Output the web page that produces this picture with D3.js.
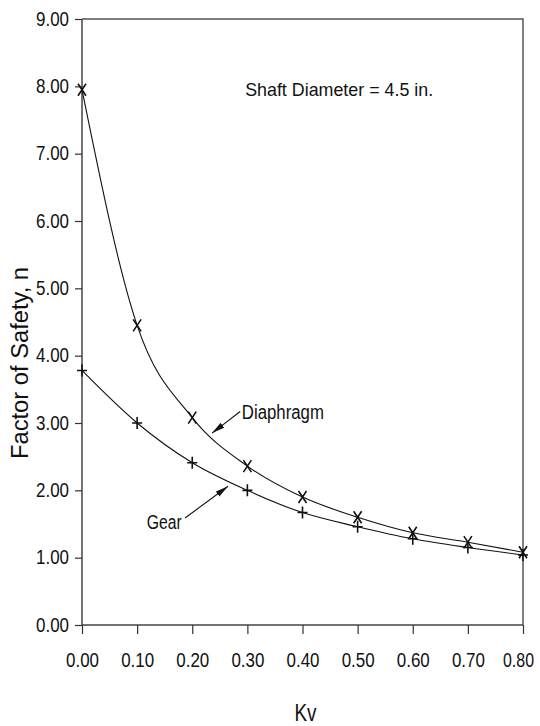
<!DOCTYPE html>
<html>
<head>
<meta charset="utf-8">
<script src="https://cdn.jsdelivr.net/npm/d3@7"></script>
<style>
  body { margin: 0; background: white; }
  svg text { font-family: "Liberation Sans", Arial, sans-serif; fill: #111; }
</style>
</head>
<body>
<div id="chart"></div>
<script>
// 데이터
const kv = [0.0, 0.1, 0.2, 0.3, 0.4, 0.5, 0.6, 0.7, 0.8];
const diaphragm = [7.95, 4.45, 3.08, 2.36, 1.9, 1.6, 1.37, 1.23, 1.08];
const gear = [3.78, 3.0, 2.41, 2.0, 1.67, 1.46, 1.28, 1.15, 1.04];
const xTicks = [0, 0.1, 0.2, 0.3, 0.4, 0.5, 0.6, 0.7, 0.8];
const yTicks = [0, 1, 2, 3, 4, 5, 6, 7, 8, 9];

const W = 540, H = 726;
const margin = { top: 19, right: 17, bottom: 101, left: 82 };
const innerW = W - margin.left - margin.right;
const innerH = H - margin.top - margin.bottom;

const svg = d3.select("#chart").append("svg")
  .attr("width", W).attr("height", H);

const g = svg.append("g")
  .attr("transform", `translate(${margin.left},${margin.top})`);

const x = d3.scaleLinear().domain([0, 0.8]).range([0, innerW]);
const y = d3.scaleLinear().domain([0, 9]).range([innerH, 0]);

// 글자를 좁고 길쭉하게 (원본의 도면용 글꼴 느낌)
function narrow(sel, size, len) {
  sel.attr("font-size", size)
    .attr("textLength", len)
    .attr("lengthAdjust", "spacingAndGlyphs");
}

// 축
const xAxis = g.append("g")
  .attr("transform", `translate(0,${innerH})`)
  .call(d3.axisBottom(x).tickValues(xTicks).tickFormat(d3.format(".2f")).tickSize(9).tickPadding(19));
const yAxis = g.append("g")
  .call(d3.axisLeft(y).tickValues(yTicks).tickFormat(d3.format(".2f")).tickSize(7).tickPadding(6));

[xAxis, yAxis].forEach(a => {
  a.select(".domain").attr("stroke", "#444").attr("stroke-width", 1.5);
  a.selectAll(".tick line").attr("stroke", "#333").attr("stroke-width", 1.2);
  a.selectAll("text").attr("fill", "#111")
    .attr("font-family", '"Liberation Sans", Arial, sans-serif')
    .call(narrow, 19.5, 33);
});
// 마지막 x 라벨은 오른쪽 끝에 걸리지 않게 조금 안쪽으로
xAxis.selectAll(".tick text").filter(d => d === 0.8)
  .attr("dx", -5).attr("textLength", 31);
xAxis.select(".domain").attr("d", `M0,0H${innerW}`);
yAxis.select(".domain").attr("d", `M0,${innerH}V0`);

// 위쪽, 오른쪽 테두리
g.append("path")
  .attr("d", `M0,0H${innerW}V${innerH}`)
  .attr("fill", "none").attr("stroke", "#555").attr("stroke-width", 1.5);

// 곡선
const line = d3.line().curve(d3.curveMonotoneX)
  .x(d => x(d[0])).y(d => y(d[1]));

const series = [
  { name: "Diaphragm", values: kv.map((k, i) => [k, diaphragm[i]]), marker: "x" },
  { name: "Gear", values: kv.map((k, i) => [k, gear[i]]), marker: "+" }
];

series.forEach(s => {
  g.append("path").datum(s.values)
    .attr("fill", "none").attr("stroke", "#111").attr("stroke-width", 1.1)
    .attr("d", line);

  g.selectAll(null).data(s.values).enter().append("path")
    .attr("transform", d => `translate(${x(d[0])},${y(d[1])})`)
    .attr("fill", "none").attr("stroke", "#111").attr("stroke-width", 1.6)
    .attr("d", s.marker === "x" ? "M-4,-6L4,6M4,-6L-4,6" : "M-5,0H5M0,-6V6");
});

// 화살표 머리
svg.append("defs").append("marker")
  .attr("id", "arrow").attr("viewBox", "0 0 13 7")
  .attr("refX", 13).attr("refY", 3.5)
  .attr("markerWidth", 13).attr("markerHeight", 7)
  .attr("markerUnits", "userSpaceOnUse")
  .attr("orient", "auto")
  .append("path").attr("d", "M0,0.5L13,3.5L0,6.5Z").attr("fill", "#111");

// 주석
const notes = [
  { text: "Diaphragm", tx: 0.29, ty: 3.16, anchor: "start", len: 82, from: [0.287, 3.17], to: [0.236, 2.85] },
  { text: "Gear", tx: 0.181, ty: 1.53, anchor: "end", len: 35, from: [0.187, 1.59], to: [0.265, 2.06] }
];

notes.forEach(n => {
  g.append("line")
    .attr("x1", x(n.from[0])).attr("y1", y(n.from[1]))
    .attr("x2", x(n.to[0])).attr("y2", y(n.to[1]))
    .attr("stroke", "#111").attr("stroke-width", 1.1)
    .attr("marker-end", "url(#arrow)");
  g.append("text")
    .attr("x", x(n.tx)).attr("y", y(n.ty))
    .attr("dy", "0.35em")
    .attr("text-anchor", n.anchor)
    .text(n.text)
    .call(narrow, 20, n.len);
});

g.append("text")
  .attr("x", x(0.296)).attr("y", y(7.95))
  .attr("dy", "0.35em")
  .text("Shaft Diameter = 4.5 in.")
  .call(narrow, 18.5, 188);

// 축 제목
svg.append("text")
  .attr("transform", `translate(28,363) rotate(-90)`)
  .attr("text-anchor", "middle")
  .text("Factor of Safety, n")
  .call(narrow, 23, 192);

svg.append("text")
  .attr("x", margin.left + innerW / 2 + 3).attr("y", 721)
  .attr("text-anchor", "middle")
  .text("Kv")
  .call(narrow, 23, 22);
</script>
</body>
</html>
